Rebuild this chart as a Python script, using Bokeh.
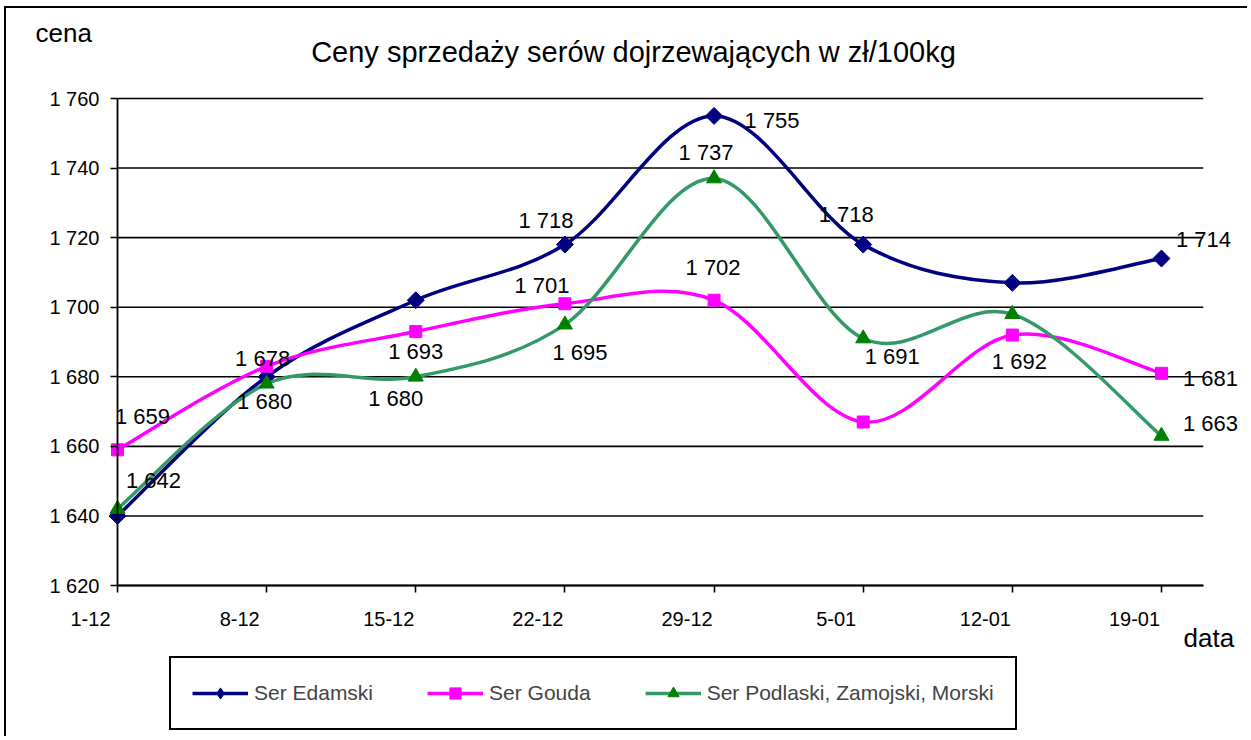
import numpy as np
from bokeh.plotting import figure
from bokeh.models import (ColumnDataSource, FixedTicker, Label, LabelSet, Legend,
                          LegendItem, LinearAxis, Range1d)
from bokeh.core.properties import value
from bokeh.embed import file_html
from bokeh.resources import INLINE

# ---------------- data ----------------
dates = ["1-12", "8-12", "15-12", "22-12", "29-12", "5-01", "12-01", "19-01"]
edamski = [1640, 1680, 1702, 1718, 1755, 1718, 1707, 1714]
gouda = [1659, 1683, 1693, 1701, 1702, 1667, 1692, 1681]
podlaski = [1642, 1678, 1680, 1695, 1737, 1691, 1698, 1663]
series_names = ["Ser Edamski", "Ser Gouda", "Ser Podlaski, Zamojski, Morski"]
y_ticks = [1620, 1640, 1660, 1680, 1700, 1720, 1740, 1760]
title_text = "Ceny sprzedaży serów dojrzewających w zł/100kg"
y_title = "cena"
x_title = "data"

# ---------------- styles / layout ----------------
FONT = "Liberation Sans"
colors_line = ["#000080", "#FF00FF", "#339966"]
colors_marker = ["#000080", "#FF00FF", "#008000"]
markers = ["square", "square", "triangle"]
legend_markers = ["diamond", "square", "triangle"]
marker_angles = [np.pi / 4, 0.0, 0.0]
marker_sizes = [12, 12, 15]
# value-label offsets in screen px (dx, dy up); None = no label shown
label_offsets = [
    [None, (-2, -25), None, (-19, 24), (58, -5), (-17, 30), None, (42, 19)],
    [(25, 33), None, (0, -20), (-23, 18), (-1, 33), None, (7, -26), (49, -5)],
    [(36, 28), (-4, 25), (-20, -22), (15, -28), (-8, 26), (29, -18), None, (49, 12)],
]

OX, OY = 6, 8            # page position of the canvas (after margin + border)
W, H = 1243, 730         # canvas size
X0_PAGE, XSTEP = 117, 149.14      # page x of first category, px per category
YTOP_PAGE, YBOT_PAGE = 98, 585    # page y of 1760 and 1620
X_END = 7.28                       # right end of the plot area in category units
XLABEL_SHIFT = 27 / XSTEP          # category labels sit left of their tick
YPX = (YBOT_PAGE - YTOP_PAGE) / (y_ticks[-1] - y_ticks[0])

x0c = X0_PAGE - OX
x_range = Range1d(-x0c / XSTEP, (W - x0c) / XSTEP)
ytc, ybc = YTOP_PAGE - OY, YBOT_PAGE - OY
y_range = Range1d(y_ticks[0] - (H - ybc) / YPX, y_ticks[-1] + ytc / YPX)


def sx(page_x):
    return page_x - OX


def sy(page_y):
    return (H + OY) - page_y


p = figure(width=W, height=H, x_range=x_range, y_range=y_range,
           output_backend="svg", toolbar_location=None,
           min_border_left=0, min_border_top=0, min_border_right=0, min_border_bottom=0)
p.styles = {"border-left": "2px solid black", "border-top": "2px solid black",
            "margin-left": f"{OX - 2}px", "margin-top": f"{OY - 2}px"}
p.outline_line_color = None
p.background_fill_color = "white"
p.border_fill_color = "white"

# grid lines across the plot area only
p.xgrid.visible = False
p.ygrid.visible = False
p.segment(x0=[0] * len(y_ticks), x1=[X_END] * len(y_ticks), y0=y_ticks, y1=y_ticks,
          line_color="black", line_width=1.6, level="underlay")

# y axis
p.yaxis.fixed_location = 0
p.yaxis.bounds = (y_ticks[0], y_ticks[-1])
p.yaxis.ticker = FixedTicker(ticks=y_ticks)
p.yaxis.major_label_overrides = {t: f"{t:,}".replace(",", " ") for t in y_ticks}
p.yaxis.major_label_text_font_size = "20px"
p.yaxis.major_label_standoff = 11

# x axis: line + tick marks at each category (as minor ticks, no labels)
cat_pos = list(range(len(dates)))
p.xaxis.fixed_location = y_ticks[0]
p.xaxis.bounds = (0, X_END)
p.xaxis.ticker = FixedTicker(ticks=[], minor_ticks=cat_pos)
p.xaxis.minor_tick_line_color = "black"
p.xaxis.minor_tick_line_width = 1.6
p.xaxis.minor_tick_out = 7
p.xaxis.minor_tick_in = 0
p.xaxis.axis_line_color = "black"
p.xaxis.axis_line_width = 1.8

ax = p.yaxis[0]
ax.axis_line_color = "black"
ax.axis_line_width = 1.8
ax.major_tick_line_color = "black"
ax.major_tick_line_width = 1.6
ax.major_tick_out = 7
ax.major_tick_in = 0
ax.minor_tick_line_color = None
ax.major_label_text_font = FONT
ax.major_label_text_color = "black"

# x axis category labels (second axis, labels only)
lab_pos = [round(i - XLABEL_SHIFT, 4) for i in cat_pos]
xlab_axis = LinearAxis(fixed_location=y_ticks[0],
                       ticker=FixedTicker(ticks=lab_pos),
                       major_label_overrides={lp: d for lp, d in zip(lab_pos, dates)},
                       axis_line_color=None, major_tick_line_color=None,
                       minor_tick_line_color=None, major_tick_out=0, major_tick_in=0,
                       major_label_standoff=26, major_label_text_font=FONT,
                       major_label_text_font_size="20px", major_label_text_color="black")
p.add_layout(xlab_axis, "below")


def bezier_cols(vals):
    n = len(vals)
    x = np.arange(n, dtype=float)
    y = np.asarray(vals, dtype=float)
    cols = dict(x0=[], y0=[], x1=[], y1=[], cx0=[], cy0=[], cx1=[], cy1=[])
    for i in range(n - 1):
        im1 = max(i - 1, 0)
        ip2 = min(i + 2, n - 1)
        cols["x0"].append(x[i]); cols["y0"].append(y[i])
        cols["x1"].append(x[i + 1]); cols["y1"].append(y[i + 1])
        cols["cx0"].append(x[i] + (x[i + 1] - x[im1]) / 6)
        cols["cy0"].append(y[i] + (y[i + 1] - y[im1]) / 6)
        cols["cx1"].append(x[i + 1] - (x[ip2] - x[i]) / 6)
        cols["cy1"].append(y[i + 1] - (y[ip2] - y[i]) / 6)
    return cols


items = []
for k, vals in enumerate([edamski, gouda, podlaski]):
    bsrc = ColumnDataSource(bezier_cols(vals))
    br = p.bezier(x0="x0", y0="y0", x1="x1", y1="y1", cx0="cx0", cy0="cy0",
                  cx1="cx1", cy1="cy1", source=bsrc,
                  line_color=colors_line[k], line_width=3.5)
    psrc = ColumnDataSource(dict(x=cat_pos, y=vals))
    p.scatter(x="x", y="y", source=psrc, marker=markers[k], size=marker_sizes[k],
              angle=marker_angles[k], fill_color=colors_marker[k],
              line_color=colors_marker[k])
    # legend swatch marker (not drawn in the plot: NaN position)
    lm = p.scatter(x=[float("nan")], y=[float("nan")], marker=legend_markers[k],
                   size=marker_sizes[k], fill_color=colors_marker[k],
                   line_color=colors_marker[k])
    items.append(LegendItem(label=series_names[k], renderers=[br, lm]))

    lx, ly, lt, dx, dy = [], [], [], [], []
    for i, v in enumerate(vals):
        off = label_offsets[k][i]
        if off is None:
            continue
        lx.append(i); ly.append(v); lt.append(f"{v:,}".replace(",", " "))
        dx.append(off[0]); dy.append(off[1])
    lsrc = ColumnDataSource(dict(x=lx, y=ly, t=lt, dx=dx, dy=dy))
    p.add_layout(LabelSet(x="x", y="y", text="t", source=lsrc, x_offset="dx", y_offset="dy",
                          text_align="center", text_baseline="middle",
                          text_font=value(FONT), text_font_size=value("22px"),
                          text_color="black"))

legend = Legend(items=items, location=(sx(169), sy(730)), orientation="horizontal",
                label_text_font=FONT, label_text_font_size="21px",
                glyph_width=56, glyph_height=28, label_standoff=6, spacing=54,
                padding=21, margin=0, border_line_color="black", border_line_width=2,
                border_line_alpha=1.0,
                background_fill_color="white", background_fill_alpha=1.0)
p.add_layout(legend)

p.add_layout(Label(x=sx(633), y=sy(51), x_units="screen", y_units="screen", text=title_text,
                   text_align="center", text_baseline="alphabetic",
                   text_font=FONT, text_font_size="29px", text_color="black"))
p.add_layout(Label(x=sx(35), y=sy(32), x_units="screen", y_units="screen", text=y_title,
                   text_align="left", text_baseline="alphabetic",
                   text_font=FONT, text_font_size="26px", text_color="black"))
p.add_layout(Label(x=sx(1183), y=sy(637), x_units="screen", y_units="screen", text=x_title,
                   text_align="left", text_baseline="alphabetic",
                   text_font=FONT, text_font_size="26px", text_color="black"))

open("out.html", "w").write(file_html(p, INLINE))
